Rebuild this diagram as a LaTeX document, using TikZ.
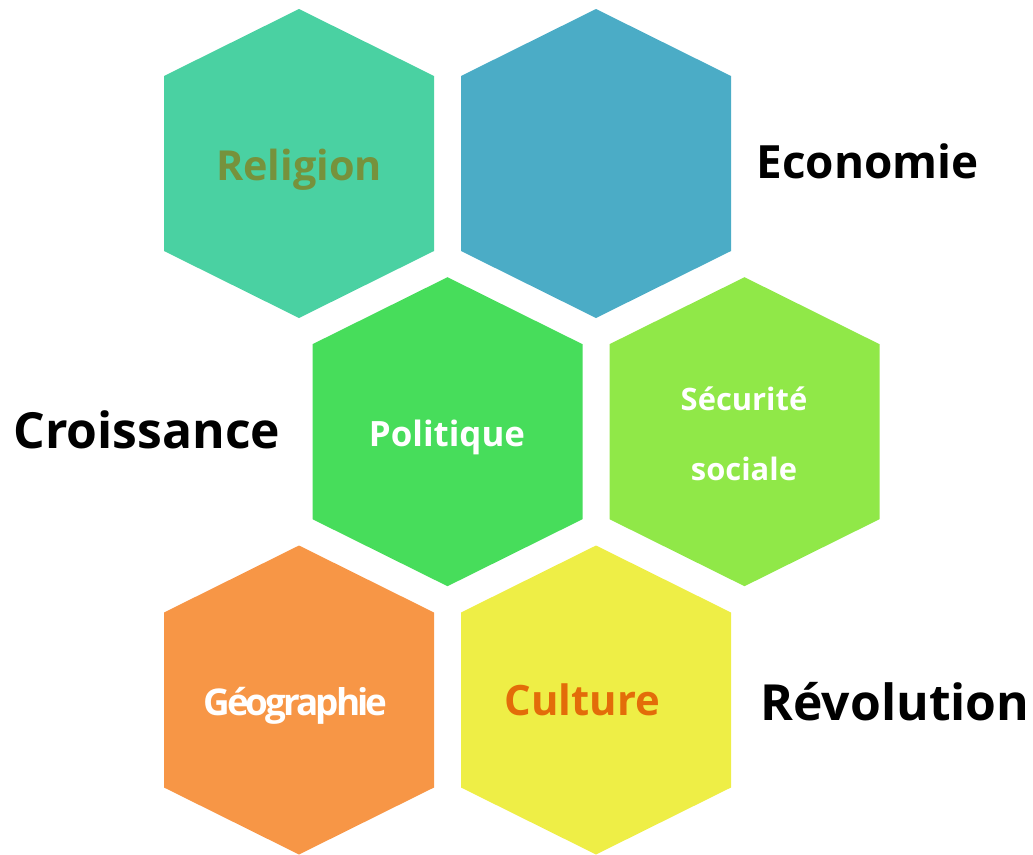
\documentclass[tikz,border=0pt]{standalone}
\usepackage{fontspec}
\setmainfont{Open Sans}
\definecolor{religioncol}{HTML}{4AD1A2}
\definecolor{economiecol}{HTML}{4BACC6}
\definecolor{politiquecol}{HTML}{47DD5B}
\definecolor{securitecol}{HTML}{90E848}
\definecolor{geographiecol}{HTML}{F79646}
\definecolor{culturecol}{HTML}{EEEE46}
\definecolor{olivetext}{HTML}{76923C}
\definecolor{orangetext}{HTML}{E36C09}
% one hexagon around a named centre
\newcommand{\hexfill}[2]{\fill[#2] (#1) ++(0,154.5) -- ++(135,-67) -- ++(0,-175) -- ++(-135,-67) -- ++(-135,67) -- ++(0,175) -- cycle;}
\begin{document}
\begin{tikzpicture}[x=1bp,y=1bp]
  \useasboundingbox (0,0) rectangle (1033,-855);
  \coordinate (rel) at (299,-163.5);
  \coordinate (eco) at (596,-163.5);
  \coordinate (pol) at (447.5,-431.7);
  \coordinate (secu) at (744.5,-431.7);
  \coordinate (geo) at (299,-700);
  \coordinate (cul) at (596,-700);
  \hexfill{rel}{religioncol}
  \hexfill{eco}{economiecol}
  \hexfill{pol}{politiquecol}
  \hexfill{secu}{securitecol}
  \hexfill{geo}{geographiecol}
  \hexfill{cul}{culturecol}
  \begin{scope}[every node/.style={inner sep=0pt,anchor=base,text=white,font=\bfseries}]
  \node[text=olivetext,font=\bfseries\fontsize{41.5}{50}\selectfont] (lrel) at (299,-180) {Religion};
  \node[font=\bfseries\fontsize{35}{42}\selectfont] (lpol) at (447,-446) {Politique};
  \node[font=\bfseries\fontsize{31}{38}\selectfont] (lsecu) at (744,-410.5) {Sécurité};
  \node[font=\bfseries\fontsize{31}{38}\selectfont] (lsoc) at (744,-480) {sociale};
  \node[font=\bfseries\fontsize{37}{44}\selectfont\addfontfeature{LetterSpace=-8}] (lgeo) at (295.5,-715) {Géographie};
  \node[text=orangetext,font=\bfseries\fontsize{42}{50}\selectfont] (lcul) at (582.5,-715) {Culture};
  \end{scope}
  \begin{scope}[every node/.style={inner sep=0pt,anchor=base,text=black,font=\bfseries\fontsize{50}{60}\selectfont}]
  \node[font=\bfseries\fontsize{46}{55}\selectfont] (leco) at (867.5,-178) {Economie};
  \node (lcro) at (147,-448) {Croissance};
  \node (lrev) at (895,-720.5) {Révolution};
  \end{scope}
\end{tikzpicture}
\end{document}
